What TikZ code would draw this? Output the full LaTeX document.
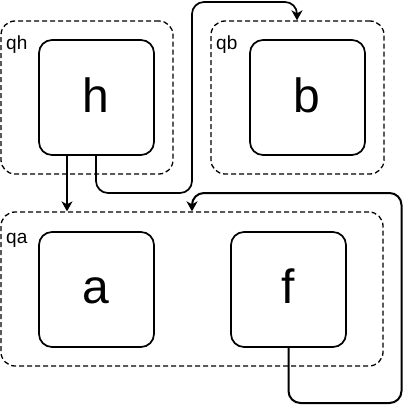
\documentclass[tikz,border=0pt]{standalone}
\usepackage{fontspec}
\setmainfont{Liberation Sans}
\usetikzlibrary{arrows.meta}
\begin{document}
\begin{tikzpicture}[x=1pt,y=-1pt,
  group/.style={draw, dashed, dash pattern=on 5pt off 3pt, line width=1.3pt, rounded corners=14pt, minimum width=#1, minimum height=153pt, inner sep=0pt},
  proc/.style={draw, line width=1.7pt, rounded corners=13pt, minimum width=115pt, minimum height=115pt, inner sep=0pt},
  big/.style={font=\fontsize{48}{48}\selectfont, anchor=base},
  small/.style={font=\fontsize{19}{19}\selectfont, anchor=base west, inner sep=0pt},
  conn/.style={line width=1.7pt, rounded corners=12pt, -{Stealth[length=10pt,width=11pt,inset=3pt]}},
  thin/.style={line width=1.1pt, -{Stealth[length=10pt,width=11pt,inset=3pt]}}
]
\useasboundingbox (0,0) rectangle (404,406);
% groups
\node[group=172pt] (qh) at (87,97.5) {};
\node[group=173pt] (qb) at (297.5,97.5) {};
\node[group=382pt, minimum height=154pt] (qa) at (192,289) {};
% labels of groups
\node[small] (lqh) at (6,50) {qh};
\node[small] (lqb) at (216,50) {qb};
\node[small] (lqa) at (6,243) {qa};
% processes
\node[proc] (h) at (96.5,97.5) {};
\node[proc] (b) at (307.5,97.5) {};
\node[proc] (a) at (96.5,289.5) {};
\node[proc] (f) at (288.5,289.5) {};
\node[big] (th) at (96,113) {h};
\node[big] (tb) at (307,113) {b};
\node[big] (ta) at (96,303) {a};
\node[big] (tf) at (288,303) {f};
% waypoints
\coordinate (w1) at (192,193);
\coordinate (w2) at (192,2);
\coordinate (w3) at (288.5,403);
\coordinate (w4) at (401.5,193);
% connectors
\draw[thin] ([xshift=-29.5pt]h.south) -- ([xshift=-29.5pt]h.south |- qa.north);
\draw[conn] ([xshift=-0.5pt]h.south) |- (w1) -- (w2) -| ([xshift=-0.5pt]qb.north);
\draw[conn, line width=2pt] (f.south) -- (w3) -| (w4) -| (qa.north);
\end{tikzpicture}
\end{document}
